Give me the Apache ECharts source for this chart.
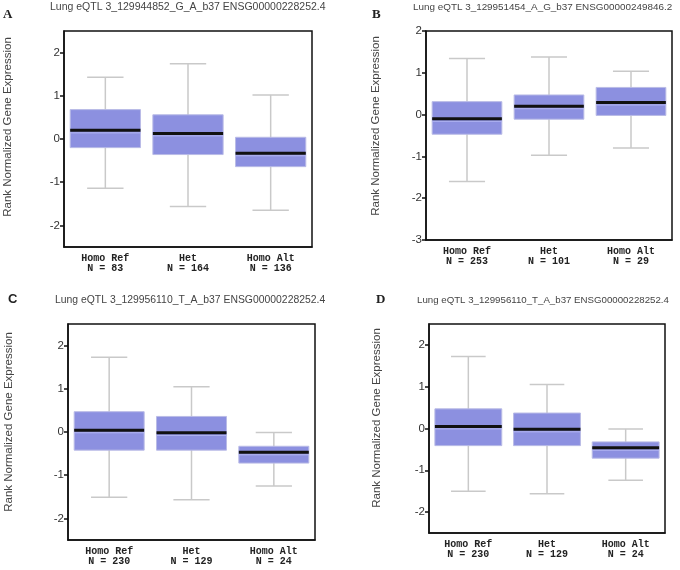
<!DOCTYPE html>
<html><head><meta charset="utf-8">
<script src="https://cdn.jsdelivr.net/npm/echarts@6/dist/echarts.min.js"></script>
<style>html,body{margin:0;padding:0;background:#fff}#c{width:680px;height:570px}</style>
</head><body><div id="c"></div>
<script>
// ---- data ----
const categories = ['Homo Ref', 'Het', 'Homo Alt'];
const countsA = [83, 164, 136];
const countsB = [253, 101, 29];
const countsC = [230, 129, 24];
const countsD = [230, 129, 24];
// each box: [min, Q1, median, Q3, max]
const boxA = [[-1.14, -0.20, 0.20, 0.68, 1.43], [-1.56, -0.36, 0.13, 0.56, 1.74], [-1.65, -0.64, -0.33, 0.04, 1.02]];
const boxB = [[-1.60, -0.47, -0.10, 0.31, 1.34], [-0.97, -0.11, 0.20, 0.47, 1.38], [-0.80, -0.02, 0.29, 0.65, 1.04]];
const boxC = [[-1.51, -0.42, 0.04, 0.47, 1.73], [-1.57, -0.42, -0.02, 0.36, 1.05], [-1.25, -0.72, -0.47, -0.33, -0.01]];
const boxD = [[-1.50, -0.41, 0.05, 0.47, 1.72], [-1.56, -0.41, -0.02, 0.37, 1.05], [-1.24, -0.71, -0.46, -0.32, -0.01]];
const titlesText = [
  'Lung eQTL 3_129944852_G_A_b37 ENSG00000228252.4',
  'Lung eQTL 3_129951454_A_G_b37 ENSG00000249846.2',
  'Lung eQTL 3_129956110_T_A_b37 ENSG00000228252.4',
  'Lung eQTL 3_129956110_T_A_b37 ENSG00000228252.4'
];
const letters = ['A', 'B', 'C', 'D'];
const yTicksA = [-2, -1, 0, 1, 2];
const yTicksB = [-3, -2, -1, 0, 1, 2];
const yTicksC = [-2, -1, 0, 1, 2];
const yTicksD = [-2, -1, 0, 1, 2];
const yMinMaxA = [-2.5, 2.5];
const yMinMaxB = [-3, 2];
const yMinMaxC = [-2.5, 2.5];
const yMinMaxD = [-2.5, 2.5];
const yAxisTitle = 'Rank Normalized Gene Expression';

// ---- layout ----
const panels = [
  {box: boxA, counts: countsA, ticks: yTicksA, mm: yMinMaxA, grid: {left: 64, top: 31, width: 248, height: 216},
   title: {left: 50, top: 2, size: 10.5}, letter: {left: 3, top: 8, font: 'Liberation Serif'}, yname: {x: 8, y: 127}},
  {box: boxB, counts: countsB, ticks: yTicksB, mm: yMinMaxB, grid: {left: 426, top: 31, width: 246, height: 209},
   title: {left: 413, top: 2, size: 9.9}, letter: {left: 372, top: 8, font: 'Liberation Serif'}, yname: {x: 376, y: 126}},
  {box: boxC, counts: countsC, ticks: yTicksC, mm: yMinMaxC, grid: {left: 68, top: 324, width: 247, height: 216},
   title: {left: 55, top: 295, size: 10.4}, letter: {left: 8, top: 293, font: 'Liberation Sans'}, yname: {x: 9, y: 422}},
  {box: boxD, counts: countsD, ticks: yTicksD, mm: yMinMaxD, grid: {left: 429, top: 324, width: 236, height: 209},
   title: {left: 417, top: 295, size: 9.7}, letter: {left: 376, top: 293, font: 'Liberation Serif'}, yname: {x: 377, y: 418}}
];

function renderBox(params, api) {
  const i = api.value(0);
  const mn = api.value(1), q1 = api.value(2), md = api.value(3), q3 = api.value(4), mx = api.value(5);
  const band = api.size([1, 0])[0];
  const bw = band * 0.85, cw = band * 0.44;
  const cx = api.coord([i, 0])[0];
  const y = v => api.coord([i, v])[1];
  const wh = {stroke: '#c9c9c9', lineWidth: 1.5};
  return {
    type: 'group',
    children: [
      {type: 'line', shape: {x1: cx, y1: y(mn), x2: cx, y2: y(mx)}, style: wh},
      {type: 'line', shape: {x1: cx - cw / 2, y1: y(mn), x2: cx + cw / 2, y2: y(mn)}, style: wh},
      {type: 'line', shape: {x1: cx - cw / 2, y1: y(mx), x2: cx + cw / 2, y2: y(mx)}, style: wh},
      {type: 'rect', shape: {x: cx - bw / 2, y: y(q3), width: bw, height: y(q1) - y(q3)},
       style: {fill: '#8c90e0', stroke: '#b9bbe6', lineWidth: 1}},
      {type: 'line', shape: {x1: cx - bw / 2, y1: y(md) + 2.5, x2: cx + bw / 2, y2: y(md) + 2.5},
       style: {stroke: '#b3b6f2', lineWidth: 1}},
      {type: 'line', shape: {x1: cx - bw / 2, y1: y(md), x2: cx + bw / 2, y2: y(md)},
       style: {stroke: '#111', lineWidth: 3}}
    ]
  };
}

const grid = [], xAxis = [], yAxis = [], series = [], title = [], graphic = [];
panels.forEach((p, k) => {
  grid.push(Object.assign({show: true, borderColor: '#111', borderWidth: 1.5, backgroundColor: '#fff'}, p.grid));
  xAxis.push({
    type: 'category', gridIndex: k, data: categories, boundaryGap: true,
    axisLine: {onZero: false, lineStyle: {color: '#111', width: 1.5}},
    axisTick: {alignWithLabel: true, length: 4, lineStyle: {color: '#111', width: 1.5}},
    axisLabel: {
      margin: 6, color: '#222', fontFamily: 'Liberation Mono', fontSize: 10, fontWeight: 'bold', lineHeight: 10,
      formatter: (v, idx) => v + '\nN = ' + p.counts[idx]
    },
    splitLine: {show: false}
  });
  yAxis.push({
    type: 'value', gridIndex: k, min: p.mm[0], max: p.mm[1],
    axisLine: {show: true, onZero: false, lineStyle: {color: '#111', width: 1.5}},
    axisTick: {show: true, length: 4, customValues: p.ticks, lineStyle: {color: '#111', width: 1.5}},
    axisLabel: {customValues: p.ticks, margin: 4, color: '#333', fontFamily: 'Liberation Sans', fontSize: 11.5},
    splitLine: {show: false}
  });
  series.push({
    type: 'custom', xAxisIndex: k, yAxisIndex: k,
    data: p.box.map((b, i) => [i].concat(b)),
    encode: {x: 0, y: [1, 2, 3, 4, 5]},
    renderItem: renderBox, silent: true
  });
  title.push({text: titlesText[k], left: p.title.left, top: p.title.top, padding: 0,
    textStyle: {fontFamily: 'Liberation Sans', fontSize: p.title.size, fontWeight: 'normal', color: '#444'}});
  title.push({text: letters[k], left: p.letter.left, top: p.letter.top, padding: 0,
    textStyle: {fontFamily: p.letter.font, fontSize: 13, fontWeight: 'bold', color: '#222'}});
  graphic.push({
    type: 'text', x: p.yname.x, y: p.yname.y, rotation: Math.PI / 2,
    style: {text: yAxisTitle, font: '11.5px "Liberation Sans"', fill: '#444',
      textAlign: 'center', textVerticalAlign: 'middle', align: 'center', verticalAlign: 'middle'}
  });
});

const chart = echarts.init(document.getElementById('c'), null, {renderer: 'canvas'});
chart.setOption({animation: false, backgroundColor: '#fff', title, grid, xAxis, yAxis, series, graphic});
</script></body></html>
